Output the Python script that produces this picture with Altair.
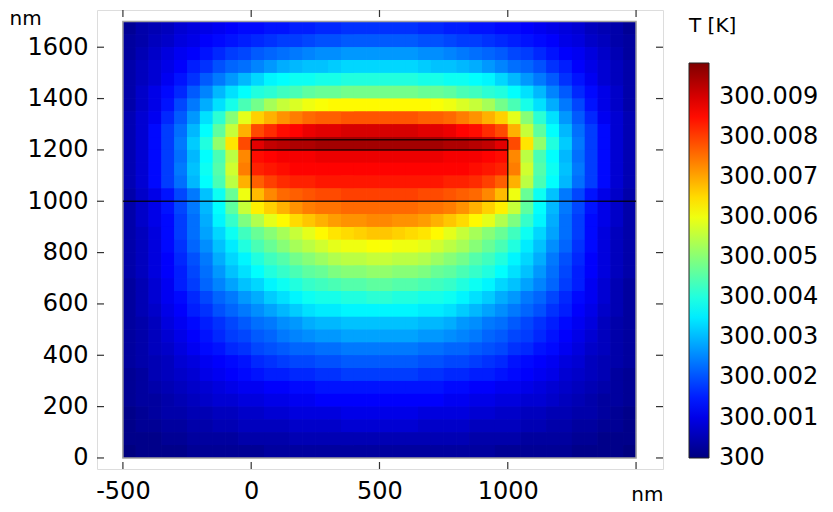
import altair as alt
import pandas as pd

# Temperature rise, in units of 1e-4 K (T = 300 K + value * 1e-4 K).
# Cells are 50 nm x 50 nm. Each row lists the cells at x = 525, 575, ..., 1475 nm;
# the field is mirror-symmetric about x = 500 nm (centre of the block).
x_half_centres = [525, 575, 625, 675, 725, 775, 825, 875, 925, 975,
                  1025, 1075, 1125, 1175, 1225, 1275, 1325, 1375, 1425, 1475]
mirror_x = 500
cell = 50

dT_y1675 = [17, 17, 17, 16, 16, 15, 15, 14, 14, 13, 13, 12, 11, 10, 9, 8, 6, 5, 4, 2]
dT_y1625 = [21, 21, 21, 20, 20, 19, 18, 18, 17, 16, 15, 14, 13, 12, 10, 9, 7, 6, 4, 3]
dT_y1575 = [27, 27, 27, 26, 26, 25, 24, 23, 22, 21, 19, 18, 16, 14, 12, 11, 9, 7, 5, 3]
dT_y1525 = [33, 33, 33, 32, 31, 31, 30, 29, 27, 25, 23, 22, 20, 17, 15, 12, 10, 8, 6, 4]
dT_y1475 = [40, 40, 40, 39, 39, 38, 38, 37, 36, 33, 30, 27, 24, 21, 17, 14, 11, 8, 6, 4]
dT_y1425 = [48, 48, 48, 47, 47, 46, 44, 43, 41, 40, 37, 34, 30, 25, 21, 16, 13, 10, 7, 4]
dT_y1375 = [62, 62, 62, 62, 61, 60, 58, 56, 53, 48, 44, 39, 34, 29, 24, 19, 14, 10, 7, 4]
dT_y1325 = [78, 78, 78, 77, 77, 76, 74, 72, 69, 66, 59, 50, 41, 34, 27, 21, 16, 11, 8, 5]
dT_y1275 = [90, 90, 90, 89, 89, 88, 86, 85, 82, 79, 69, 56, 46, 37, 30, 23, 18, 13, 8, 5]
dT_y1225 = [95, 95, 95, 95, 95, 94, 94, 93, 92, 89, 79, 64, 51, 40, 32, 24, 18, 13, 8, 5]
dT_y1175 = [88, 88, 88, 88, 88, 87, 87, 87, 86, 85, 73, 55, 44, 37, 30, 23, 18, 13, 8, 5]
dT_y1125 = [86, 86, 86, 86, 86, 86, 86, 85, 84, 83, 74, 57, 45, 38, 31, 24, 18, 13, 8, 5]
dT_y1075 = [84, 84, 84, 84, 84, 83, 83, 82, 80, 77, 69, 55, 44, 37, 30, 23, 18, 13, 8, 5]
dT_y1025 = [80, 80, 80, 79, 79, 78, 77, 76, 73, 68, 60, 47, 38, 31, 24, 19, 14, 10, 7, 4]
dT_y975 = [76, 76, 76, 75, 75, 74, 72, 69, 66, 63, 56, 46, 37, 30, 24, 19, 14, 10, 7, 4]
dT_y925 = [73, 72, 72, 71, 69, 67, 65, 62, 59, 54, 49, 42, 36, 29, 23, 18, 13, 10, 7, 4]
dT_y875 = [67, 66, 65, 64, 62, 59, 56, 53, 50, 47, 43, 38, 33, 28, 23, 18, 13, 9, 6, 4]
dT_y825 = [61, 60, 60, 59, 57, 55, 53, 50, 47, 44, 40, 35, 31, 26, 22, 17, 13, 9, 6, 4]
dT_y775 = [56, 55, 55, 54, 52, 50, 48, 45, 43, 40, 36, 33, 29, 24, 20, 16, 12, 9, 6, 4]
dT_y725 = [51, 50, 50, 49, 47, 46, 44, 42, 40, 37, 34, 31, 27, 23, 19, 15, 12, 9, 6, 4]
dT_y675 = [46, 45, 45, 44, 43, 42, 40, 38, 36, 33, 31, 28, 25, 22, 18, 15, 11, 8, 5, 3]
dT_y625 = [41, 40, 40, 39, 39, 38, 36, 34, 32, 29, 27, 24, 22, 19, 16, 13, 11, 8, 5, 3]
dT_y575 = [36, 36, 36, 35, 35, 34, 32, 30, 28, 26, 24, 22, 20, 17, 15, 12, 10, 7, 5, 3]
dT_y525 = [31, 31, 31, 30, 30, 29, 27, 26, 24, 23, 21, 19, 17, 15, 13, 11, 9, 6, 4, 3]
dT_y475 = [28, 28, 28, 27, 27, 26, 25, 24, 22, 21, 19, 18, 16, 14, 12, 10, 8, 6, 4, 3]
dT_y425 = [24, 24, 24, 23, 23, 22, 22, 21, 20, 19, 17, 16, 14, 13, 11, 9, 7, 6, 4, 3]
dT_y375 = [21, 21, 21, 20, 20, 19, 19, 18, 17, 16, 14, 13, 12, 11, 9, 8, 6, 5, 4, 3]
dT_y325 = [18, 18, 18, 17, 17, 16, 16, 15, 15, 14, 13, 12, 11, 10, 8, 7, 6, 5, 3, 2]
dT_y275 = [14, 14, 14, 14, 14, 13, 13, 12, 12, 11, 11, 10, 9, 8, 7, 6, 5, 4, 3, 2]
dT_y225 = [12, 12, 12, 12, 12, 11, 11, 10, 10, 9, 9, 8, 8, 7, 6, 5, 4, 3, 3, 2]
dT_y175 = [10, 10, 10, 9, 9, 9, 9, 8, 8, 7, 7, 6, 6, 5, 5, 4, 4, 3, 2, 1]
dT_y125 = [8, 8, 8, 7, 7, 7, 7, 6, 6, 6, 6, 5, 5, 4, 4, 3, 3, 2, 2, 1]
dT_y75 = [5, 5, 5, 5, 5, 5, 5, 4, 4, 4, 4, 3, 3, 3, 3, 2, 2, 1, 1, 1]
dT_y25 = [3, 3, 3, 3, 3, 3, 3, 3, 3, 2, 2, 2, 2, 2, 2, 1, 1, 1, 1, 0]

rows = {
    1675: dT_y1675, 1625: dT_y1625, 1575: dT_y1575, 1525: dT_y1525,
    1475: dT_y1475, 1425: dT_y1425, 1375: dT_y1375, 1325: dT_y1325,
    1275: dT_y1275, 1225: dT_y1225, 1175: dT_y1175, 1125: dT_y1125,
    1075: dT_y1075, 1025: dT_y1025, 975: dT_y975, 925: dT_y925,
    875: dT_y875, 825: dT_y825, 775: dT_y775, 725: dT_y725,
    675: dT_y675, 625: dT_y625, 575: dT_y575, 525: dT_y525,
    475: dT_y475, 425: dT_y425, 375: dT_y375, 325: dT_y325,
    275: dT_y275, 225: dT_y225, 175: dT_y175, 125: dT_y125,
    75: dT_y75, 25: dT_y25,
}

# geometry lines (nm): substrate interface and the two-layer block
seg_x = [-500, 0, 1000, 0, 0]
seg_x2 = [1500, 0, 1000, 1000, 1000]
seg_y = [1000, 1000, 1000, 1240, 1200]
seg_y2 = [1000, 1240, 1240, 1240, 1200]

# simulation domain outline
dom_x = [-500]
dom_x2 = [1500]
dom_y = [0]
dom_y2 = [1700]

x_ticks = [-500, 0, 500, 1000, 1500]
y_ticks = [0, 200, 400, 600, 800, 1000, 1200, 1400, 1600]
legend_values = [300.000, 300.001, 300.002, 300.003, 300.004,
                 300.005, 300.006, 300.007, 300.008, 300.009]
T_min, T_max = 299.99999, 300.00985
jet_colors = ["#00007F", "#0000FF", "#007FFF", "#00FFFF", "#7FFF7F",
              "#FFFF00", "#FF7F00", "#FF0000", "#7F0000"]

# ---- build tables -------------------------------------------------------
recs = []
for yc, half in rows.items():
    full_x = [2 * mirror_x - xc for xc in reversed(x_half_centres)] + x_half_centres
    full_v = list(reversed(half)) + half
    for xc, v in zip(full_x, full_v):
        recs.append({"x": xc - cell / 2, "x2": xc + cell / 2,
                     "y": yc - cell / 2, "y2": yc + cell / 2,
                     "T": 300.0 + v * 1e-4})
field = pd.DataFrame(recs)
segs = pd.DataFrame({"x": seg_x, "x2": seg_x2, "y": seg_y, "y2": seg_y2})
dom = pd.DataFrame({"x": dom_x, "x2": dom_x2, "y": dom_y, "y2": dom_y2})
xt = pd.DataFrame({"x": x_ticks})
yt = pd.DataFrame({"y": y_ticks})

W, H = 566, 459
FONT = "DejaVu Sans"
xscale = alt.Scale(domain=[-601, 1605], nice=False, zero=False)
yscale = alt.Scale(domain=[-43, 1745], nice=False, zero=False)
n = len(jet_colors)
cdomain = [T_min + (T_max - T_min) * i / (n - 1) for i in range(n)]
cscale = alt.Scale(type="linear", domain=cdomain, range=jet_colors, interpolate="rgb")

xaxis = alt.Axis(values=x_ticks, grid=False, ticks=False, domain=False,
                 labelFontSize=24, labelPadding=10, labelFlush=False, labelOverlap=False,
                 labelExpr="datum.value == 1500 ? '' : '' + datum.value",
                 title="nm", titleFontSize=20, titleFontWeight="normal",
                 titleX=W, titleY=31, titleAlign="right", titleBaseline="alphabetic")
yaxis = alt.Axis(values=y_ticks, grid=False, ticks=False, domain=False,
                 labelFontSize=24, labelPadding=9, labelFlush=False, labelOverlap=False,
                 labelExpr="'' + datum.value",
                 title="nm", titleFontSize=20, titleFontWeight="normal", titleAngle=0,
                 titleX=-88, titleY=14, titleAlign="left", titleBaseline="alphabetic")

legend = alt.Legend(
    type="gradient", title="T [K]", orient="none", legendX=592, legendY=6,
    direction="vertical",
    gradientLength=395, gradientThickness=20, gradientStrokeColor="#222",
    gradientStrokeWidth=1, values=legend_values,
    labelExpr="datum.value < 300.0005 ? '300' : format(datum.value, '.3f')",
    labelFontSize=24, labelOffset=10, labelFont=FONT, labelColor="black",
    labelOverlap=False,
    titleFontSize=20, titleFontWeight="normal", titleFont=FONT, titlePadding=27,
    titleColor="black", padding=0)


def X(f="x"):
    return alt.X(f"{f}:Q", scale=xscale, axis=xaxis, title="nm")


def Y(f="y"):
    return alt.Y(f"{f}:Q", scale=yscale, axis=yaxis, title="nm")


def heat_layer():
    return alt.Chart(field).mark_rect().encode(
        x=X(), x2="x2:Q", y=Y(), y2="y2:Q",
        color=alt.Color("T:Q", scale=cscale, legend=legend),
    )


# the cells are drawn three times over so that anti-aliased seams between them vanish
heat1, heat2, heat3 = heat_layer(), heat_layer(), heat_layer()

outline = alt.Chart(dom).mark_rect(fillOpacity=0, stroke="#a0a0a0", strokeWidth=1.5).encode(
    x=X(), x2="x2:Q", y=Y(), y2="y2:Q")

lines = alt.Chart(segs).mark_rule(color="black", strokeWidth=1.5, opacity=0.8).encode(
    x=X(), x2="x2:Q", y=Y(), y2="y2:Q")

tick_style = dict(color="#333", strokeWidth=1.2)
xt_bottom = alt.Chart(xt).mark_rule(**tick_style).encode(
    x=X(), y=alt.value(H), y2=alt.value(H - 7))
xt_top = alt.Chart(xt).mark_rule(**tick_style).encode(
    x=X(), y=alt.value(0), y2=alt.value(7))
yt_left = alt.Chart(yt).mark_rule(**tick_style).encode(
    y=Y(), x=alt.value(0), x2=alt.value(7))
yt_right = alt.Chart(yt).mark_rule(**tick_style).encode(
    y=Y(), x=alt.value(W), x2=alt.value(W - 7))

chart = alt.layer(heat1, heat2, heat3, outline, lines,
                  xt_bottom, xt_top, yt_left, yt_right).properties(
    width=W, height=H,
    autosize=alt.AutoSizeParams(type="none"),
    padding={"left": 89, "top": 2, "right": 162, "bottom": 35},
).configure_view(
    stroke="#3a3a3a", strokeWidth=1.2
).configure_axis(
    labelFont=FONT, titleFont=FONT, labelColor="black", titleColor="black"
).configure(
    font=FONT, background="white"
)

chart.save("out.html", embed_options={"renderer": "svg", "actions": False})
